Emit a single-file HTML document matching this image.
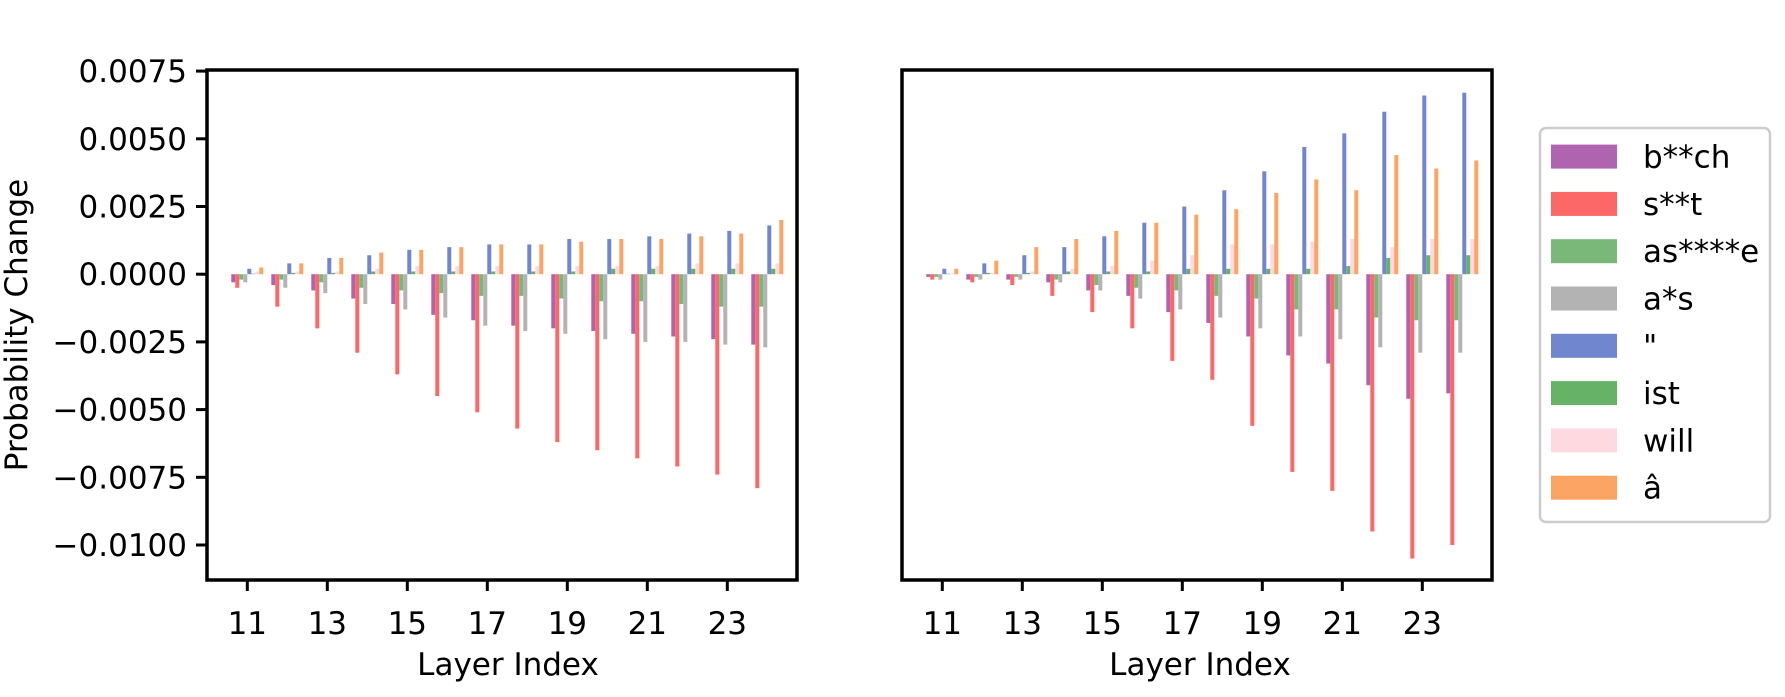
<!DOCTYPE html>
<html><head><meta charset="utf-8"><style>
html,body{margin:0;padding:0;background:#fff;}
svg text{font-family:"DejaVu Sans","Liberation Sans",sans-serif;fill:#000;}
</style></head><body>
<svg id="s" width="1785" height="692" xmlns="http://www.w3.org/2000/svg">
<rect width="1785" height="692" fill="#fff"/>
<g id="bars"></g>
<g id="axes" fill="none" stroke="#000" stroke-width="3.5">
<rect x="207" y="70" width="590" height="510"/>
<rect x="902" y="70" width="590" height="510"/>
</g>
<g id="ticks" stroke="#000" stroke-width="3"></g>
<g id="labels" font-size="31"></g>
<text x="17" y="325" font-size="31" text-anchor="middle" transform="rotate(-90 17 325)" dominant-baseline="central">Probability Change</text>
<text x="508" y="675" font-size="31" text-anchor="middle">Layer Index</text>
<text x="1200" y="675" font-size="31" text-anchor="middle">Layer Index</text>
<rect x="1540" y="128" width="230" height="394" rx="6" fill="#fff" stroke="#cccccc" stroke-width="2.5"/>
<g id="leg" font-size="31"></g>
</svg>
<script>
var NS="http://www.w3.org/2000/svg";
function el(p,t,a,txt){var e=document.createElementNS(NS,t);for(var k in a)e.setAttribute(k,a[k]);if(txt!==undefined)e.textContent=txt;p.appendChild(e);return e;}
var cols=["#b064b0","#fc6868","#7ab87a","#b3b3b3","#7087cf","#66b266","#ffd9e0","#fba464"];
var names=["b**ch","s**t","as****e","a*s","\"","ist","will","â"];
var L=[[-3,-5,-2,-3,2,.2,1,2.5],[-4,-12,-2,-5,4,.5,1,4],[-6,-20,-3,-7,6,.5,1,6],[-9,-29,-5,-11,7,1,2,8],[-11,-37,-6,-13,9,1,3,9],[-15,-45,-7,-16,10,1,3,10],[-17,-51,-8,-19,11,1,3,11],[-19,-57,-8,-21,11,1,3,11],[-20,-62,-9,-22,13,1,3,12],[-21,-65,-10,-24,13,2,3,13],[-22,-68,-10,-25,14,2,3,13],[-23,-71,-11,-25,15,2,4,14],[-24,-74,-12,-26,16,2,4,15],[-26,-79,-12,-27,18,2,4,20]];
var R=[[-1,-2,-1,-2,2,.2,.3,2],[-2,-3,-1,-2,4,.5,.5,5],[-2,-4,-1,-2,7,.5,1,10],[-3,-8,-2,-3,10,1,2,13],[-6,-14,-4,-6,14,1,3,16],[-8,-20,-5,-9,19,1,5,19],[-14,-32,-6,-13,25,2,7,22],[-18,-39,-8,-16,31,2,11,24],[-23,-56,-9,-20,38,2,11,30],[-30,-73,-13,-23,47,2,12,35],[-33,-80,-13,-24,52,3,13,31],[-41,-95,-16,-27,60,6,10,44],[-46,-105,-17,-29,66,7,13,39],[-44,-100,-17,-29,67,7,13,42]];
var y0=274.2;
var bars=document.getElementById("bars"),ticks=document.getElementById("ticks"),lab=document.getElementById("labels");
function panel(data,off){
 for(var g=0;g<14;g++){var tx=247.3+off+40*g;
  for(var i=0;i<8;i++){var v=data[g][i]*2.708;var cx=tx+(i-3.5)*4;
   var y=v>0?y0-v:y0, h=Math.abs(v);
   el(bars,"rect",{x:cx-2,y:y,width:4,height:Math.max(h,0.5),fill:cols[i]});}
 }
 for(var j=0;j<7;j++){var tx=247.3+off+80*j;el(ticks,"line",{x1:tx,y1:580,x2:tx,y2:591});
  el(lab,"text",{x:tx,y:634,"text-anchor":"middle"},String(11+2*j));}
}
panel(L,0);panel(R,695);
var yl=["0.0075","0.0050","0.0025","0.0000","\u22120.0025","\u22120.0050","\u22120.0075","\u22120.0100"];
for(var t=0;t<8;t++){var y=y0-203.1+t*67.7;el(ticks,"line",{x1:196,y1:y,x2:207,y2:y});
 el(lab,"text",{x:187,y:y+11,"text-anchor":"end"},yl[t]);}
var leg=document.getElementById("leg");
for(var i=0;i<8;i++){var cy=156.6+47.3*i;el(leg,"rect",{x:1551,y:cy-12,width:66,height:24,fill:cols[i]});
 el(leg,"text",{x:1643,y:cy+11},names[i]);}
</script>
</body></html>
